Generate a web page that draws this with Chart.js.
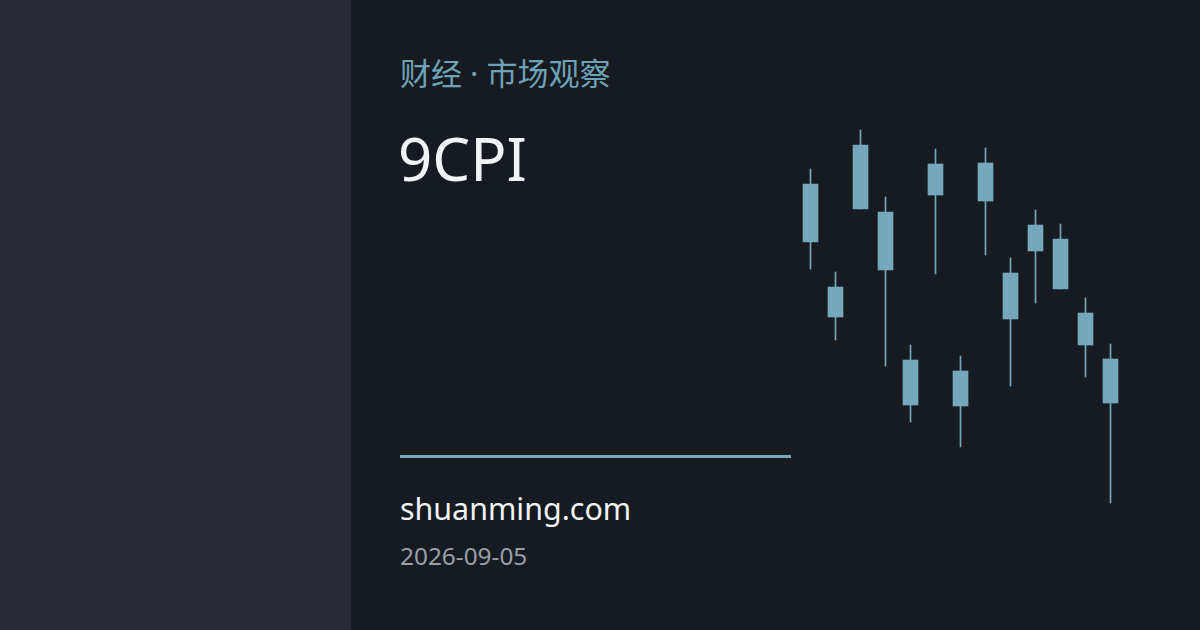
<!DOCTYPE html>
<html>
<head>
<meta charset="utf-8">
<script src="https://cdn.jsdelivr.net/npm/chart.js@4.4.1/dist/chart.umd.min.js"></script>
<style>
  html, body { margin: 0; padding: 0; }
  body {
    width: 1200px; height: 630px; overflow: hidden; position: relative;
    background: #161a21;
    font-family: "Noto Sans", "Noto Sans CJK SC", sans-serif;
  }
  .side { position: absolute; left: 0; top: 0; width: 351px; height: 630px; background: #272a32; }
  .kicker { position: absolute; left: 400px; top: 53px; font-size: 31px; color: #6fa2b6; line-height: 40px; white-space: nowrap; }
  .title { position: absolute; left: 398px; top: 118px; font-size: 60px; color: #f2f3f5; line-height: 80px; white-space: nowrap; }
  .rule { position: absolute; left: 400px; top: 455px; width: 391px; height: 3px; background: #76a8bb; }
  .site { position: absolute; left: 400px; top: 487px; font-size: 30.4px; color: #f2f3f5; line-height: 44px; white-space: nowrap; }
  .date { position: absolute; left: 400px; top: 539px; font-size: 24.4px; color: #9a9ea6; line-height: 34px; white-space: nowrap; }
  .chart { position: absolute; left: 798px; top: 120px; width: 325px; height: 400px; }
</style>
</head>
<body>
<div class="side"></div>
<div class="kicker">财经 · 市场观察</div>
<div class="title">9CPI</div>
<div class="rule"></div>
<div class="site">shuanming.com</div>
<div class="date">2026-09-05</div>
<div class="chart"><canvas id="candles"></canvas></div>
<script>
// candle values (no axis shown, arbitrary units)
const labels = ["1", "2", "3", "4", "5", "6", "7", "8", "9", "10", "11", "12", "13"];
const open  = [133.6, 123.3, 137.5, 130.8, 116.0, 135.6, 114.9, 135.7, 124.7, 129.5, 128.1, 120.7, 116.1];
const close = [127.8, 120.3, 131.1, 125.0, 111.5, 132.5, 111.4, 131.9, 120.1, 126.9, 123.1, 117.5, 111.7];
const high  = [135.1, 124.8, 139.0, 132.3, 117.5, 137.1, 116.4, 137.2, 126.2, 131.0, 129.6, 122.2, 117.6];
const low   = [125.1, 118.0, 131.1, 115.4, 109.8, 124.6, 107.3, 126.5, 113.4, 121.7, 123.1, 114.3, 101.7];

const candleColor = "#76a8bb";

const ctx = document.getElementById("candles");
new Chart(ctx, {
  type: "bar",
  data: {
    labels: labels,
    datasets: [
      {
        label: "wick",
        data: labels.map((_, i) => [low[i], high[i]]),
        backgroundColor: candleColor,
        barThickness: 1,
        grouped: false,
        order: 2,
      },
      {
        label: "body",
        data: labels.map((_, i) => [close[i], open[i]]),
        backgroundColor: candleColor,
        barThickness: 15,
        grouped: false,
        order: 1,
      },
    ],
  },
  options: {
    responsive: true,
    maintainAspectRatio: false,
    animation: false,
    layout: { padding: 0 },
    plugins: {
      legend: { display: false },
      tooltip: { enabled: false },
    },
    scales: {
      x: { display: false, offset: true },
      y: { display: false, min: 100, max: 140 },
    },
  },
});
</script>
</body>
</html>
